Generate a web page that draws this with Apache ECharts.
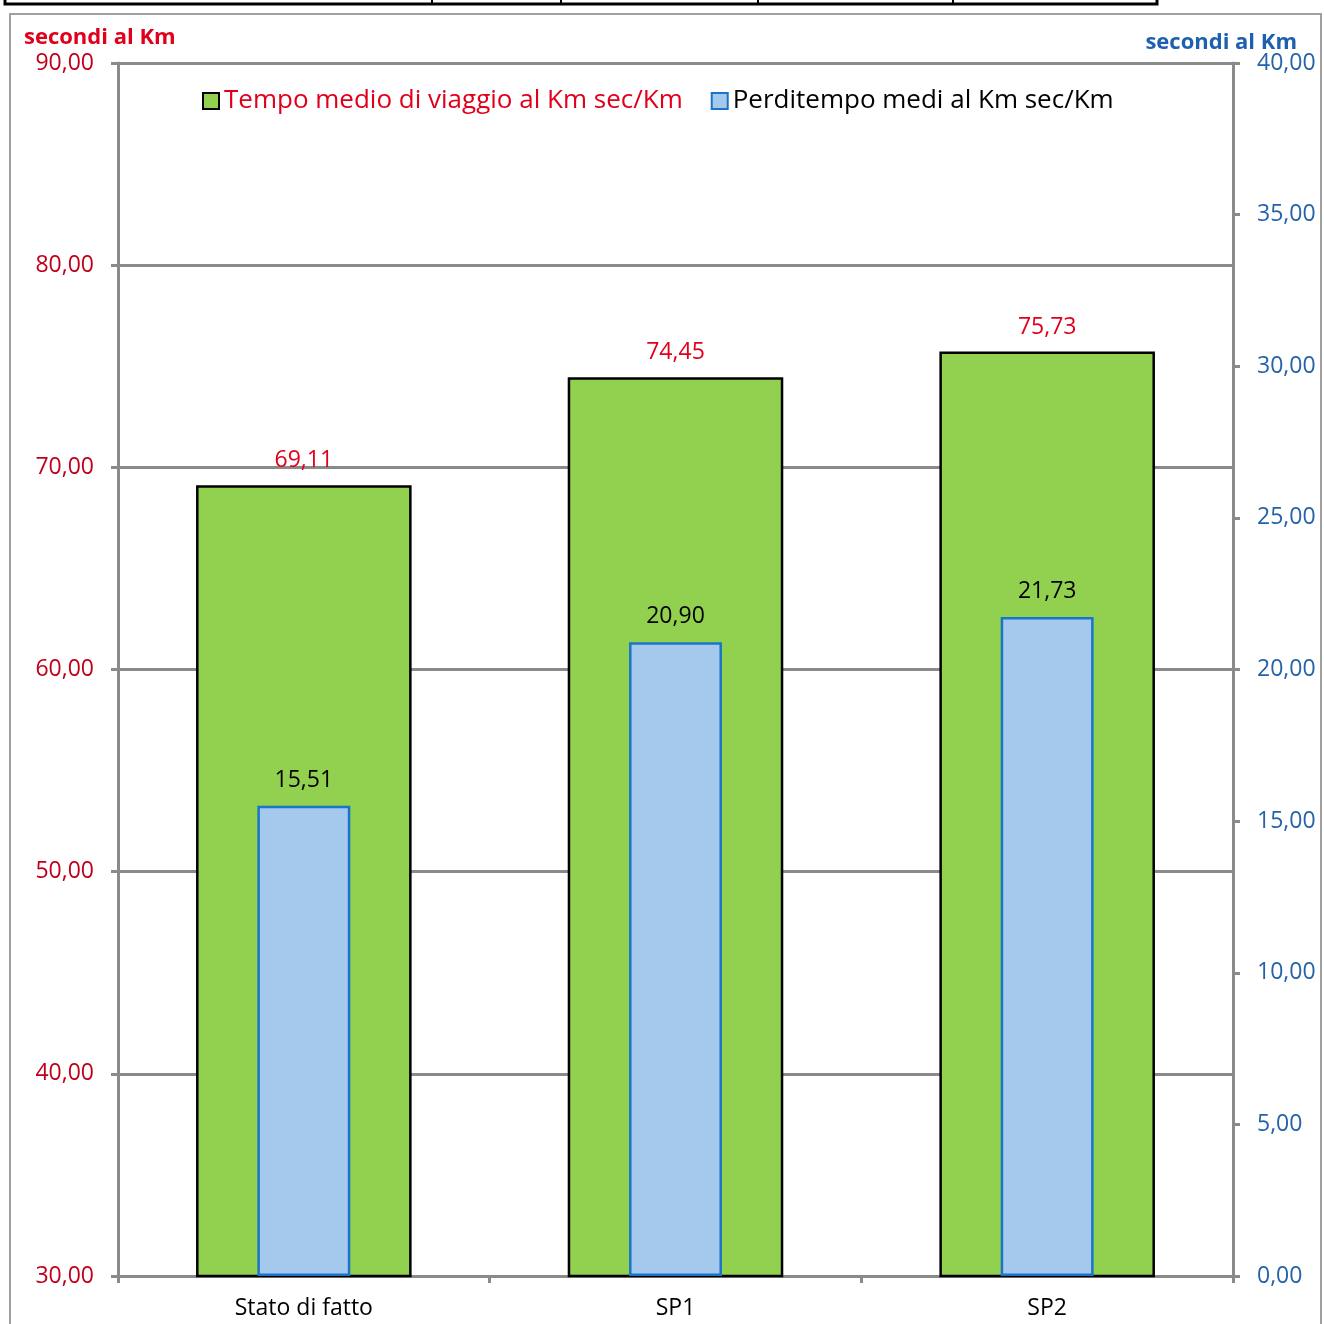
<!DOCTYPE html>
<html>
<head>
<meta charset="utf-8">
<script src="https://cdn.jsdelivr.net/npm/echarts@6/dist/echarts.min.js"></script>
<style>
  html, body { margin: 0; padding: 0; background: #fff; }
  #chart { width: 1324px; height: 1324px; }
</style>
</head>
<body>
<div id="chart"></div>
<script>
const categories = ['Stato di fatto', 'SP1', 'SP2'];
const tempoMedio = [69.11, 74.45, 75.73];
const perditempo = [15.51, 20.90, 21.73];
const seriesNames = ['Tempo medio di viaggio al Km sec/Km', 'Perditempo medi al Km sec/Km'];
const axisTitle = 'secondi al Km';

const FONT = '"Open Sans", "Noto Sans", sans-serif';
const fmt = v => v.toFixed(2).replace('.', ',');
const GRAY = '#8a8a8a';

const chart = echarts.init(document.getElementById('chart'), null, { renderer: 'canvas' });

chart.setOption({
  backgroundColor: '#ffffff',
  animation: false,
  textStyle: { fontFamily: FONT },
  graphic: [
    {
      type: 'rect', z: -10, silent: true,
      shape: { x: 10, y: 14, width: 1311, height: 1330 },
      style: { fill: '#ffffff', stroke: '#a0a0a0', lineWidth: 2 }
    },
    {
      type: 'rect', silent: true,
      shape: { x: 5, y: -10, width: 1152, height: 14 },
      style: { fill: 'none', stroke: '#000000', lineWidth: 3 }
    },
    { type: 'line', silent: true, shape: { x1: 432, y1: 0, x2: 432, y2: 4 }, style: { stroke: '#000', lineWidth: 2 } },
    { type: 'line', silent: true, shape: { x1: 561, y1: 0, x2: 561, y2: 4 }, style: { stroke: '#000', lineWidth: 2 } },
    { type: 'line', silent: true, shape: { x1: 758, y1: 0, x2: 758, y2: 4 }, style: { stroke: '#000', lineWidth: 2 } },
    { type: 'line', silent: true, shape: { x1: 953, y1: 0, x2: 953, y2: 4 }, style: { stroke: '#000', lineWidth: 2 } }
  ],
  title: [
    {
      text: axisTitle, left: 19, top: 22,
      textStyle: { color: '#E0001B', fontSize: 22, fontWeight: 'bold', fontFamily: FONT }
    },
    {
      text: axisTitle, right: 22, top: 27,
      textStyle: { color: '#1F5FB0', fontSize: 22, fontWeight: 'bold', fontFamily: FONT }
    }
  ],
  legend: {
    left: 197, top: 83,
    icon: 'rect',
    itemWidth: 16, itemHeight: 16,
    itemGap: 28,
    textStyle: { fontSize: 26, fontFamily: FONT, color: '#000' },
    data: [
      { name: seriesNames[0], textStyle: { color: '#E0001B' } },
      { name: seriesNames[1], textStyle: { color: '#000000' } }
    ]
  },
  grid: { left: 118, right: 91, top: 63, bottom: 48, containLabel: false },
  xAxis: [
    {
      type: 'category', data: categories,
      axisLine: { show: true, lineStyle: { color: GRAY, width: 3 } },
      axisTick: { show: true, alignWithLabel: false, length: 7, lineStyle: { color: GRAY, width: 3 } },
      axisLabel: { color: '#000', fontSize: 23, margin: 21, fontFamily: FONT }
    },
    {
      type: 'category', data: categories, show: false, position: 'bottom'
    }
  ],
  yAxis: [
    {
      type: 'value', min: 30, max: 90, interval: 10, position: 'left',
      axisLine: { show: true, lineStyle: { color: GRAY, width: 3 } },
      axisTick: { show: true, length: 7, lineStyle: { color: GRAY, width: 3 } },
      splitLine: { show: true, lineStyle: { color: GRAY, width: 3 } },
      axisLabel: { color: '#C0001A', fontSize: 23, margin: 24, formatter: v => fmt(v), fontFamily: FONT }
    },
    {
      type: 'value', min: 0, max: 40, interval: 5, position: 'right',
      axisLine: { show: true, lineStyle: { color: GRAY, width: 3 } },
      axisTick: { show: true, length: 7, lineStyle: { color: GRAY, width: 3 } },
      splitLine: { show: false },
      axisLabel: { color: '#2563A8', fontSize: 23, margin: 24, formatter: v => fmt(v), fontFamily: FONT }
    }
  ],
  series: [
    {
      name: seriesNames[0], type: 'bar', xAxisIndex: 0, yAxisIndex: 0,
      data: tempoMedio, barWidth: '58%', z: 2,
      itemStyle: { color: '#92D050', borderColor: '#000000', borderWidth: 2.5 },
      label: {
        show: true, position: 'top', distance: 13,
        color: '#E0001B', fontSize: 23, fontFamily: FONT,
        formatter: p => fmt(p.value)
      }
    },
    {
      name: seriesNames[1], type: 'bar', xAxisIndex: 1, yAxisIndex: 1,
      data: perditempo, barWidth: '25%', z: 3,
      itemStyle: { color: '#A4C9ED', borderColor: '#1A75C8', borderWidth: 2.5 },
      label: {
        show: true, position: 'top', distance: 14,
        color: '#000000', fontSize: 23, fontFamily: FONT,
        formatter: p => fmt(p.value)
      }
    }
  ]
});
</script>
</body>
</html>
